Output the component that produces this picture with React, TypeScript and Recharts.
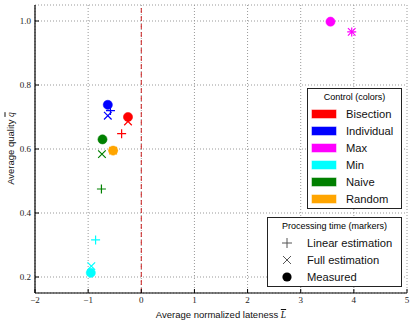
import React from 'react';
import { ScatterChart, Scatter, XAxis, YAxis, CartesianGrid, ReferenceLine } from 'recharts';

const controls = ['Bisection', 'Individual', 'Max', 'Min', 'Naive', 'Random'];
const colors = ['#ff0000', '#0000ff', '#ff00ff', '#00ffff', '#008000', '#ffa500'];

// lateness (x) and quality (y) per control, one pair per processing-time model
const linearX = [-0.37, -0.58, 3.96, -0.86, -0.75, -0.53];
const linearY = [0.648, 0.72, 0.966, 0.316, 0.475, 0.595];
const fullX = [-0.25, -0.63, 3.96, -0.94, -0.74, -0.53];
const fullY = [0.686, 0.704, 0.966, 0.234, 0.584, 0.595];
const measuredX = [-0.25, -0.63, 3.56, -0.95, -0.73, -0.53];
const measuredY = [0.7, 0.738, 0.998, 0.213, 0.63, 0.595];

const xTicks = [-2, -1, 0, 1, 2, 3, 4, 5];
const yTicks = [0.2, 0.4, 0.6, 0.8, 1.0];

const markerNames = ['Linear estimation', 'Full estimation', 'Measured'];

const tickStyle = { fontFamily: 'Liberation Serif', fontSize: 9, fill: '#222' };
const fmtX = (v: number) => (v < 0 ? '\u2212' + Math.abs(v) : String(v));
const fmtY = (v: number) => v.toFixed(1);
const blank = () => '';

const plus = (color: string) => (p: any) =>
  <path d={`M${p.cx - 4.5},${p.cy}H${p.cx + 4.5}M${p.cx},${p.cy - 4.5}V${p.cy + 4.5}`} stroke={color} strokeWidth={1.2} fill="none" />;
const cross = (color: string) => (p: any) =>
  <path d={`M${p.cx - 3.8},${p.cy - 3.8}L${p.cx + 3.8},${p.cy + 3.8}M${p.cx - 3.8},${p.cy + 3.8}L${p.cx + 3.8},${p.cy - 3.8}`} stroke={color} strokeWidth={1.2} fill="none" />;
const dot = (color: string) => (p: any) =>
  <circle cx={p.cx} cy={p.cy} r={4.6} fill={color} stroke={color} strokeWidth={0.5} />;

const sans = 'Liberation Sans, Arial, sans-serif';

const App = () => {
  return (
    <div style={{ position: 'absolute', left: 0, top: 0, width: 416, height: 327, background: '#fff' }}>
      <ScatterChart width={416} height={327} margin={{ top: 5, right: 9, left: 0, bottom: 0 }}>
        <CartesianGrid stroke="#999" strokeDasharray="1 2" />
        <XAxis type="number" dataKey="x" domain={[-2, 5]} ticks={xTicks} interval={0} height={34}
          tickFormatter={fmtX} tick={tickStyle} tickSize={-4} tickMargin={8}
          axisLine={{ stroke: '#000', strokeWidth: 1.2 }} tickLine={{ stroke: '#000' }} />
        <YAxis type="number" dataKey="y" domain={[0.15, 1.05]} ticks={yTicks} interval={0} width={35}
          tickFormatter={fmtY} tick={tickStyle} tickSize={-4} tickMargin={8}
          axisLine={{ stroke: '#000', strokeWidth: 1.2 }} tickLine={{ stroke: '#000' }} />
        <XAxis xAxisId="top" orientation="top" type="number" domain={[-2, 5]} ticks={xTicks} interval={0} height={0}
          tickFormatter={blank} tickSize={-4} axisLine={{ stroke: '#000', strokeWidth: 1.2 }} tickLine={{ stroke: '#000' }} />
        <YAxis yAxisId="right" orientation="right" type="number" domain={[0.15, 1.05]} ticks={yTicks} interval={0} width={0}
          tickFormatter={blank} tickSize={-4} axisLine={{ stroke: '#000', strokeWidth: 1.2 }} tickLine={{ stroke: '#000' }} />
        <ReferenceLine x={0} stroke="#cc2222" strokeDasharray="5 3" strokeWidth={1} />
        {controls.map((c, i) => (
          <Scatter key={'l' + c} name={c} data={[{ x: linearX[i], y: linearY[i] }]} shape={plus(colors[i])} isAnimationActive={false} />
        ))}
        {controls.map((c, i) => (
          <Scatter key={'f' + c} name={c} data={[{ x: fullX[i], y: fullY[i] }]} shape={cross(colors[i])} isAnimationActive={false} />
        ))}
        {controls.map((c, i) => (
          <Scatter key={'m' + c} name={c} data={[{ x: measuredX[i], y: measuredY[i] }]} shape={dot(colors[i])} isAnimationActive={false} />
        ))}
      </ScatterChart>

      <div style={{ position: 'absolute', left: 35, width: 372, top: 309, textAlign: 'center', fontFamily: sans, fontSize: 9.5, color: '#111' }}>
        Average normalized lateness{' '}
        <span style={{ fontFamily: 'Liberation Serif', fontStyle: 'italic', textDecoration: 'overline' }}>L</span>
      </div>
      <div style={{ position: 'absolute', left: 10, top: 149, width: 0, height: 0 }}>
        <div style={{ position: 'absolute', left: -100, top: -6, width: 200, textAlign: 'center', transform: 'rotate(-90deg)', fontFamily: sans, fontSize: 9.5, color: '#111', whiteSpace: 'nowrap' }}>
          Average quality{' '}
          <span style={{ fontFamily: 'Liberation Serif', fontStyle: 'italic', textDecoration: 'overline' }}>q</span>
        </div>
      </div>

      <div style={{ position: 'absolute', left: 307, top: 88, width: 93, height: 119, border: '1.2px solid #222', background: '#fff', fontFamily: sans }}>
        <div style={{ position: 'absolute', left: 0, width: 93, top: 3, textAlign: 'center', fontSize: 9, lineHeight: '11px' }}>Control (colors)</div>
        {controls.map((c, i) => (
          <div key={c} style={{ position: 'absolute', left: 4, top: 18 + i * 17, height: 14, display: 'flex', alignItems: 'center' }}>
            <div style={{ width: 24, height: 8, background: colors[i], boxShadow: '0 0 0 0.5px ' + colors[i] + '88' }} />
            <span style={{ marginLeft: 10, fontSize: 11.2, lineHeight: '14px', color: '#111' }}>{c}</span>
          </div>
        ))}
      </div>

      <div style={{ position: 'absolute', left: 267, top: 217, width: 133, height: 68, border: '1.2px solid #222', background: '#fff', fontFamily: sans }}>
        <div style={{ position: 'absolute', left: 0, width: 133, top: 3, textAlign: 'center', fontSize: 9, lineHeight: '11px' }}>Processing time (markers)</div>
        {markerNames.map((m, i) => (
          <div key={m} style={{ position: 'absolute', left: 13, top: 18 + i * 17, height: 14, display: 'flex', alignItems: 'center' }}>
            <svg width={12} height={12} style={{ display: 'block' }}>
              {i === 0 && <path d="M1,6H11M6,1V11" stroke="#555" strokeWidth={1} />}
              {i === 1 && <path d="M2,2L10,10M2,10L10,2" stroke="#555" strokeWidth={1} />}
              {i === 2 && <circle cx={6} cy={6} r={4.6} fill="#000" />}
            </svg>
            <span style={{ marginLeft: 14, fontSize: 11.2, lineHeight: '14px', color: '#111' }}>{m}</span>
          </div>
        ))}
      </div>
    </div>
  );
};

export default App;
